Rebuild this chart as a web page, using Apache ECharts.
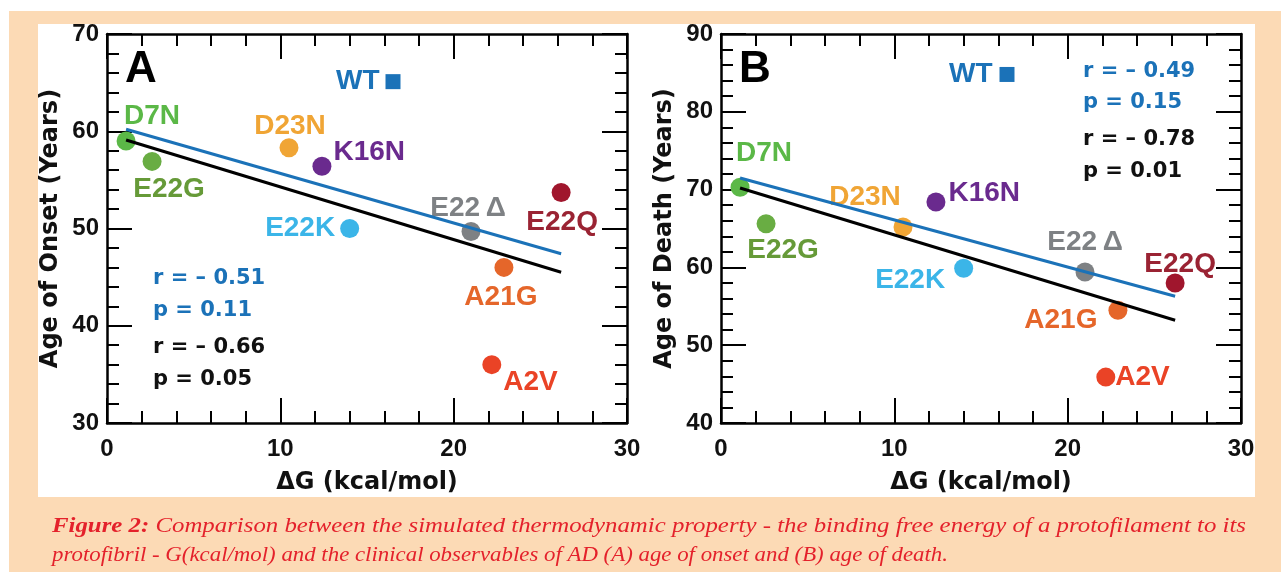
<!DOCTYPE html>
<html><head><meta charset="utf-8">
<script src="https://cdn.jsdelivr.net/npm/echarts@6/dist/echarts.min.js"></script>
<style>html,body{margin:0;padding:0;background:#fff}#c{width:1281px;height:572px}</style>
</head><body><div id="c"></div>
<script>
// ---- data ----
const mutants    = ['WT','D7N','E22G','D23N','K16N','E22K','E22Δ','E22Q','A21G','A2V'];
const deltaG     = [16.5, 1.1, 2.6, 10.5, 12.4, 14.0, 21.0, 26.2, 22.9, 22.2];
const ageOfOnset = [65.1, 59.0, 56.9, 58.3, 56.4, 50.0, 49.7, 53.7, 46.0, 36.0];
const ageOfDeath = [84.8, 70.3, 65.6, 65.2, 68.4, 59.9, 59.4, 58.0, 54.5, 45.9];
const fitRangeX   = [1.1, 26.2];
const onsetFitBlue  = [60.2, 47.4];
const onsetFitBlack = [59.1, 45.5];
const deathFitBlue  = [71.5, 56.3];
const deathFitBlack = [70.2, 53.2];
const statsOnset = ['r = – 0.51', 'p = 0.11', 'r = – 0.66', 'p = 0.05'];
const statsDeath = ['r = – 0.49', 'p = 0.15', 'r = – 0.78', 'p = 0.01'];
const xRange = [0, 30];
const onsetRange = [30, 70];
const deathRange = [40, 90];
const tickStep = 10;
const xTitle = 'ΔG (kcal/mol)';
const yTitles = ['Age of Onset (Years)', 'Age of Death (Years)'];
const panelLetters = ['A', 'B'];
const captionBold = 'Figure 2:';
const captionLine1 = ' Comparison between the simulated thermodynamic property - the binding free energy of a protofilament to its';
const captionLine2 = 'protofibril - G(kcal/mol) and the clinical observables of AD (A) age of onset and (B) age of death.';

// ---- styles ----
const BLUE = '#1b72b8';
const pointColors = {WT:BLUE, D7N:'#5bb847', E22G:'#69ad43', D23N:'#f0a535', K16N:'#6a2a8e',
  E22K:'#3bb5e8', 'E22Δ':'#7e8184', E22Q:'#a0162d', A21G:'#e5662a', A2V:'#ea4326'};
const labelColors = Object.assign({}, pointColors, {E22G:'#669a38', E22Q:'#9a2333'});
const placeA = {
  WT:{position:'left', distance:6},
  D7N:{position:'inside', offset:[26,-25]},
  E22G:{position:'inside', offset:[17,28]},
  D23N:{position:'inside', offset:[1,-22]},
  K16N:{position:'right', distance:2, offset:[0,-14]},
  E22K:{position:'left', distance:5},
  'E22Δ':{position:'inside', offset:[-3,-23]},
  E22Q:{position:'inside', offset:[1,30]},
  A21G:{position:'inside', offset:[-3,30]},
  A2V:{position:'right', distance:2, offset:[0,18]}
};
const placeB = {
  WT:{position:'left', distance:7},
  D7N:{position:'inside', offset:[24,-34]},
  E22G:{position:'inside', offset:[17,26]},
  D23N:{position:'inside', offset:[-38,-30]},
  K16N:{position:'right', distance:3, offset:[0,-9]},
  E22K:{position:'left', distance:9, offset:[0,12]},
  'E22Δ':{position:'inside', offset:[0,-30]},
  E22Q:{position:'inside', offset:[5,-19]},
  A21G:{position:'left', distance:11, offset:[0,10]},
  A2V:{position:'right', distance:0, offset:[0,0]}
};

function labelText(p) { return p.name.replace('Δ', '\u2009Δ'); }

function scatterData(ys, place) {
  return mutants.map((m, i) => ({
    name: m,
    value: [deltaG[i], ys[i]],
    symbol: m === 'WT' ? 'rect' : 'circle',
    symbolSize: m === 'WT' ? 15 : 19,
    itemStyle: {color: pointColors[m], opacity: 1},
    label: Object.assign({show:true, formatter:labelText, color: labelColors[m],
      fontFamily:'Liberation Sans', fontWeight:'bold', fontSize:28}, place[m])
  }));
}

const tickStyle = {inside:true, length:25, lineStyle:{color:'#000', width:2}};
const minorStyle = {show:true, splitNumber:5, length:12, lineStyle:{color:'#000', width:2}};
const lineStyleAx = {onZero:false, lineStyle:{color:'#000', width:2.5}};
const tickFont = {fontFamily:'Liberation Sans', fontWeight:'bold', fontSize:24, color:'#111'};
const titleFont = {fontFamily:'DejaVu Sans', fontWeight:'bold', fontSize:24, color:'#111'};

function xAx(g, pos, main) {
  return {type:'value', gridIndex:g, position:pos, min:xRange[0], max:xRange[1], interval:tickStep,
    axisLine:lineStyleAx, axisTick:tickStyle, minorTick:minorStyle, splitLine:{show:false},
    axisLabel: main ? Object.assign({margin:14}, tickFont) : {show:false},
    name: main ? xTitle : '', nameLocation:'middle', nameGap:48, nameTextStyle:titleFont};
}
function yAx(g, pos, range, main, title) {
  return {type:'value', gridIndex:g, position:pos, min:range[0], max:range[1], interval:tickStep,
    axisLine:lineStyleAx, axisTick:tickStyle, minorTick:minorStyle, splitLine:{show:false},
    axisLabel: main ? Object.assign({margin:8}, tickFont) : {show:false},
    name: main ? title : '', nameLocation:'middle', nameGap:44, nameTextStyle:titleFont};
}
function fitLine(xi, yi, ys, color) {
  return {type:'line', xAxisIndex:xi, yAxisIndex:yi, z:5, silent:true, symbol:'none',
    data:[[fitRangeX[0], ys[0]], [fitRangeX[1], ys[1]]],
    lineStyle:{color:color, width:3}};
}

// ---- caption: each line scaled horizontally to its width in the figure ----
const cv = document.createElement('canvas').getContext('2d');
const capSize = 20;
const fontBold = 'italic bold ' + capSize + 'px "Liberation Serif"';
const fontReg = 'italic ' + capSize + 'px "Liberation Serif"';
const capLeft = 52, capRight = 1246, line2Right = 948;
cv.font = fontBold; const wB = cv.measureText(captionBold).width;
cv.font = fontReg; const w1 = cv.measureText(captionLine1).width;
const w2 = cv.measureText(captionLine2).width;
const sx1 = (capRight - capLeft) / (wB + w1);
const sx2 = (line2Right - capLeft) / w2;
const RED = '#e4212b';
const captionEls = [
  {type:'text', x:capLeft, y:527, scaleX:sx1, z:10, style:{text:captionBold, fill:RED, font:fontBold, verticalAlign:'middle'}},
  {type:'text', x:capLeft + wB*sx1, y:527, scaleX:sx1, z:10, style:{text:captionLine1, fill:RED, font:fontReg, verticalAlign:'middle'}},
  {type:'text', x:capLeft, y:556, scaleX:sx2, z:10, style:{text:captionLine2, fill:RED, font:fontReg, verticalAlign:'middle'}}
];

function statTexts(lines, x, ys) {
  return lines.map((t, i) => ({type:'text', x:x, y:ys[i], z:10,
    style:{text:t, fill: i < 2 ? BLUE : '#111', font:'bold 21px "DejaVu Sans"', verticalAlign:'middle'}}));
}

const graphic = [
  {type:'rect', z:-20, shape:{x:9, y:11, width:1272, height:561}, style:{fill:'#fcdab5'}},
  {type:'rect', z:-19, shape:{x:38, y:24, width:1217, height:473}, style:{fill:'#ffffff'}},
  {type:'text', x:125, y:70, z:10, style:{text:panelLetters[0], fill:'#000', font:'bold 44px "Liberation Sans"', verticalAlign:'middle'}},
  {type:'text', x:739, y:70, z:10, style:{text:panelLetters[1], fill:'#000', font:'bold 44px "Liberation Sans"', verticalAlign:'middle'}},
  ...statTexts(statsOnset, 153, [279, 311, 348, 380]),
  ...statTexts(statsDeath, 1083, [72, 103, 140, 172]),
  ...captionEls
];

const chart = echarts.init(document.getElementById('c'), null, {renderer:'canvas'});
chart.setOption({
  animation:false,
  backgroundColor:'#ffffff',
  grid:[{left:107, top:34, width:520, height:389}, {left:721, top:34, width:520, height:389}],
  xAxis:[xAx(0,'bottom',true), xAx(0,'top',false), xAx(1,'bottom',true), xAx(1,'top',false)],
  yAxis:[yAx(0,'left',onsetRange,true,yTitles[0]), yAx(0,'right',onsetRange,false),
         yAx(1,'left',deathRange,true,yTitles[1]), yAx(1,'right',deathRange,false)],
  series:[
    {type:'scatter', xAxisIndex:0, yAxisIndex:0, z:3, data:scatterData(ageOfOnset, placeA)},
    fitLine(0, 0, onsetFitBlue, BLUE),
    fitLine(0, 0, onsetFitBlack, '#000'),
    {type:'scatter', xAxisIndex:2, yAxisIndex:2, z:3, data:scatterData(ageOfDeath, placeB)},
    fitLine(2, 2, deathFitBlue, BLUE),
    fitLine(2, 2, deathFitBlack, '#000')
  ],
  graphic: graphic
});
</script></body></html>
